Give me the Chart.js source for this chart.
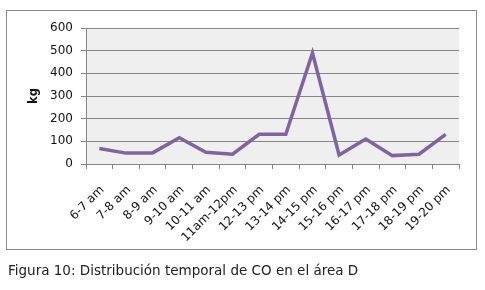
<!DOCTYPE html>
<html><head><meta charset="utf-8">
<script src="https://cdn.jsdelivr.net/npm/chart.js@4/dist/chart.umd.min.js"></script>
<style>
html,body{margin:0;padding:0;background:#fff;width:485px;height:290px;overflow:hidden;}
#box{position:absolute;left:6px;top:10px;width:469px;height:238px;border:1px solid #8a8a8a;box-sizing:content-box;}
#wrap{position:absolute;left:0;top:0;width:485px;height:290px;}
#cap{position:absolute;left:8px;top:262px;font-family:"DejaVu Sans",sans-serif;font-size:13.5px;color:#222;white-space:nowrap;}
</style></head>
<body>
<div id="box"></div>
<div id="wrap"><canvas id="c" width="485" height="290"></canvas></div>
<div id="cap">Figura 10: Distribución temporal de CO en el área D</div>
<script>
const categories = ["6-7 am","7-8 am","8-9 am","9-10 am","10-11 am","11am-12pm","12-13 pm","13-14 pm","14-15 pm","15-16 pm","16-17 pm","17-18 pm","18-19 pm","19-20 pm"];
const coValues = [68, 48, 49, 116, 52, 43, 131, 131, 490, 40, 110, 37, 43, 131];
const yTicks = [0, 100, 200, 300, 400, 500, 600];
const yTitle = 'kg';

const bgPlugin = {
  id:'bg',
  beforeDraw(chart){
    const a = chart.chartArea, ctx = chart.ctx;
    ctx.save(); ctx.fillStyle = '#efefef';
    ctx.fillRect(a.left, a.top, a.right-a.left, a.bottom-a.top);
    ctx.restore();
  },
  afterDraw(chart){
    const a = chart.chartArea, ctx = chart.ctx;
    ctx.save();
    ctx.translate(34, (a.top + a.bottom)/2);
    ctx.rotate(-Math.PI/2);
    ctx.font = 'bold 11.5px "DejaVu Sans", sans-serif';
    ctx.fillStyle = '#111';
    ctx.textAlign = 'center'; ctx.textBaseline = 'middle';
    ctx.fillText(yTitle, 0, 0);
    ctx.restore();
  }
};
Chart.defaults.font.family = '"DejaVu Sans", sans-serif';
Chart.defaults.color = '#111';
new Chart(document.getElementById('c'), {
  type:'line',
  data:{labels:categories, datasets:[{data:coValues, borderColor:'#8064a2', borderWidth:3.5, pointRadius:0, tension:0, fill:false}]},
  options:{
    responsive:false, animation:false,
    layout:{padding:{left:0, right:26, top:28, bottom:0}},
    plugins:{legend:{display:false}, tooltip:{enabled:false}},
    scales:{
      x:{
        offset:true,
        grid:{offset:true, drawOnChartArea:false, drawTicks:true, tickLength:5, color:'#868686'},
        border:{color:'#868686'},
        ticks:{maxRotation:45, minRotation:45, autoSkip:false, font:{size:12}, color:'#111', padding:14, labelOffset:3},
        afterFit(s){ s.height = 126; }
      },
      y:{
        min:0, max:600,
        afterBuildTicks(s){ s.ticks = yTicks.map(v=>({value:v})); },
        grid:{color:'#868686', tickLength:5, drawTicks:true},
        border:{color:'#868686'},
        ticks:{font:{size:12}, color:'#111', padding:8},
        afterFit(s){ s.width = 86; }
      }
    }
  },
  plugins:[bgPlugin]
});
</script>
</body></html>
